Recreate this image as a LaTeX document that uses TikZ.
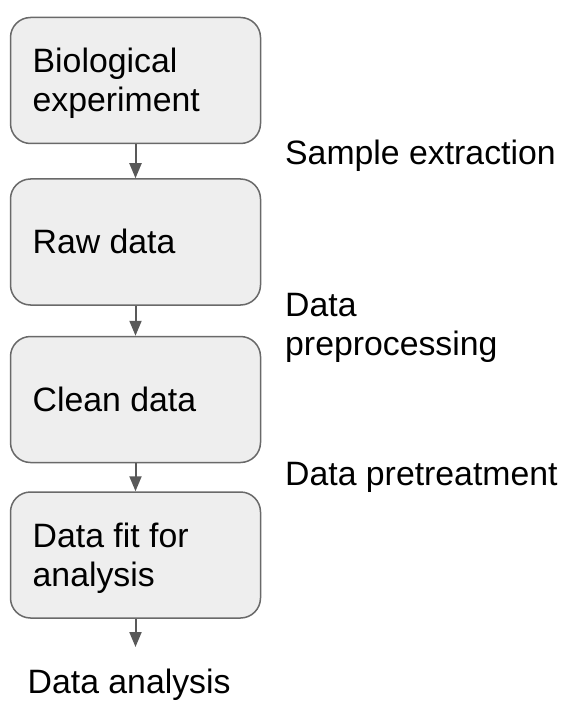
\documentclass[tikz,border=0pt]{standalone}
\usepackage{fontspec}
\setmainfont{Liberation Sans}
\usetikzlibrary{arrows.meta}
\definecolor{boxfill}{HTML}{EEEEEE}
\definecolor{boxline}{HTML}{696969}
\definecolor{arrowgray}{HTML}{595959}
\begin{document}
\begin{tikzpicture}[x=1pt,y=1pt,
  stagebox/.style={draw=boxline, fill=boxfill, line width=1.5pt,
    rounded corners=20pt, minimum width=250pt, minimum height=126pt,
    inner sep=0pt},
  lbl/.style={inner sep=0pt, anchor=base west, align=left,
    font=\fontsize{33.8}{39}\selectfont, text=black},
  flow/.style={draw=arrowgray, line width=2pt,
    -{Triangle[length=15pt,width=12pt]}}]
  \useasboundingbox (0,0) rectangle (562,-703);

  % stage boxes
  \node[stagebox] (b1) at (135.5,-80.5) {};
  \node[stagebox] (b2) at (135.5,-242) {};
  \node[stagebox] (b3) at (135.5,-399.5) {};
  \node[stagebox] (b4) at (135.5,-555) {};

  % box captions (multi-line nodes sit on their last baseline)
  \node[lbl] (t1) at (32.5,-112) {Biological\\experiment};
  \node[lbl] (t2) at (32.5,-253) {Raw data};
  \node[lbl] (t3) at (32.5,-411) {Clean data};
  \node[lbl] (t4) at (32.5,-586) {Data fit for\\analysis};

  % step labels
  \node[lbl] (s1) at (285,-165) {Sample extraction};
  \node[lbl] (s2) at (285,-355) {Data\\preprocessing};
  \node[lbl] (s3) at (285,-485) {Data pretreatment};
  \node[lbl] (s4) at (27.5,-693) {Data analysis};

  % connectors
  \coordinate (end) at (135.5,-647);
  \draw[flow] (b1.south) -- (b2.north);
  \draw[flow] (b2.south) -- (b3.north);
  \draw[flow] (b3.south) -- (b4.north);
  \draw[flow] (b4.south) -- (end);
\end{tikzpicture}
\end{document}
